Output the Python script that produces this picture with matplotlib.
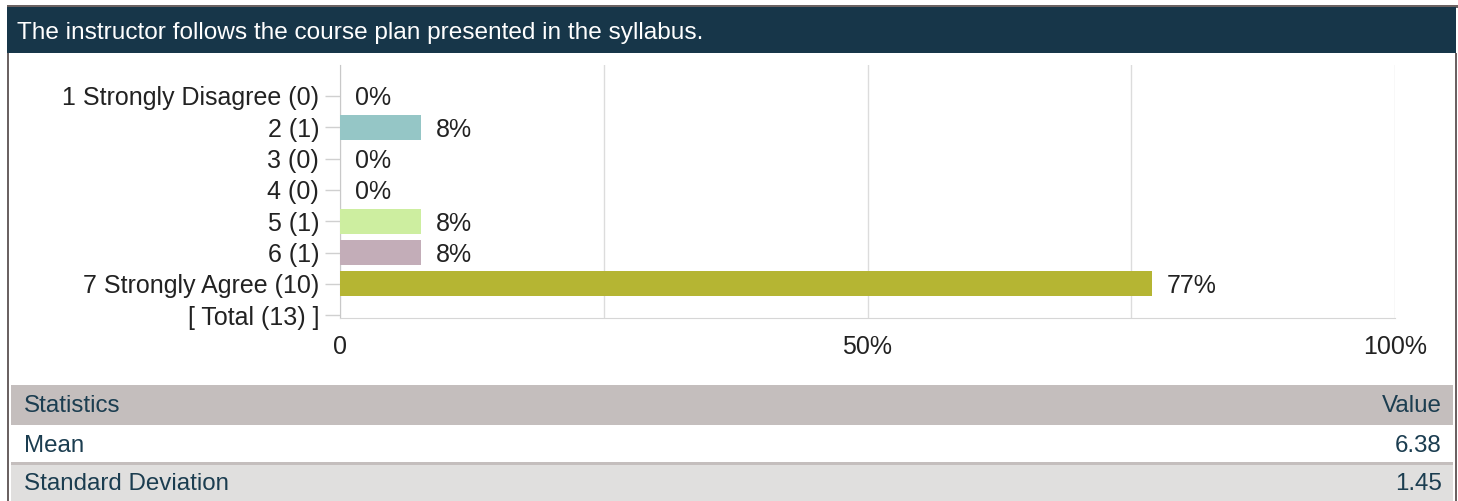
import matplotlib
matplotlib.use("Agg")
import matplotlib.pyplot as plt
from matplotlib.patches import Rectangle

plt.rcParams['font.family'] = ['Liberation Sans', 'DejaVu Sans']

title = "The instructor follows the course plan presented in the syllabus."
categories = ["1 Strongly Disagree (0)", "2 (1)", "3 (0)", "4 (0)", "5 (1)", "6 (1)",
              "7 Strongly Agree (10)", "[ Total (13) ]"]
percents = [0, 7.69, 0, 0, 7.69, 7.69, 76.92]
pct_labels = ["0%", "8%", "0%", "0%", "8%", "8%", "77%"]
bar_colors = ["#95c6c6", "#95c6c6", "#95c6c6", "#95c6c6", "#cdeea0", "#c3adb8", "#b5b533"]
x_ticks = [0, 25, 50, 75, 100]
x_tick_labels = ["0", "", "50%", "", "100%"]
stat_names = ["Mean", "Standard Deviation"]
stat_values = ["6.38", "1.45"]

W, H = 1458, 501
fig = plt.figure(figsize=(W / 100, H / 100), dpi=100)
fig.patch.set_facecolor("white")

bg = fig.add_axes([0, 0, 1, 1])
bg.set_xlim(0, W)
bg.set_ylim(H, 0)
bg.axis("off")

border = "#6b6262"
navy = "#173649"
txt = "#1b3d50"
fs_title = 17.6
fs_tab = 17.4
fs_lab = 18
# header bar
bg.add_patch(Rectangle((7, 5), W - 7, 2.5, color=border, lw=0))
bg.add_patch(Rectangle((7, 7), 1449, 46, color=navy, lw=0))
bg.text(17, 32.5, title, color="white", fontsize=fs_title, va="center", ha="left")
# side borders
bg.add_patch(Rectangle((7, 53), 2.5, H - 53, color=border, lw=0))
bg.add_patch(Rectangle((1455, 53), 2, H - 53, color=border, lw=0))
# stats table
bg.add_patch(Rectangle((11, 385), 1442, 40, color="#c4bebd", lw=0))
bg.text(24, 406.5, "Statistics", color=txt, fontsize=fs_tab, va="center", ha="left")
bg.text(1442, 406.5, "Value", color=txt, fontsize=fs_tab, va="center", ha="right")
row_tops = [425, 462]
row_colors = ["white", "#e0dfde"]
for name, val, top, col in zip(stat_names, stat_values, row_tops, row_colors):
    h = 38 if col == "white" else 39
    bg.add_patch(Rectangle((11, top), 1442, h, color=col, lw=0))
    cy = top + h / 2 + (2.5 if col != "white" else 1.5)
    bg.text(24, cy, name, color=txt, fontsize=fs_tab, va="center", ha="left")
    bg.text(1442, cy, val, color=txt, fontsize=fs_tab, va="center", ha="right")
bg.add_patch(Rectangle((11, 462), 1442, 3, color="#c4bebd", lw=0))

# chart axes
x0, x1 = 340, 1395
ytop, ybot = 65, 318
ax = fig.add_axes([x0 / W, 1 - ybot / H, (x1 - x0) / W, (ybot - ytop) / H])
ax.set_facecolor("none")
n = len(categories)
pos = list(range(n))
ax.barh(pos[:len(percents)], percents, height=0.8, color=bar_colors, zorder=3)
for p, v, lab in zip(pos, percents, pct_labels):
    ax.text(v + 1.4, p, lab, va="center_baseline", ha="left", fontsize=fs_lab,
            color="#222222", zorder=4)
ax.set_xlim(0, 100)
ax.set_ylim(7.09, -0.99)
ax.set_yticks(pos)
ax.set_yticklabels(categories, fontsize=fs_lab, color="#222222")
ax.tick_params(axis="y", length=11, color="#d0d0d0", pad=4, width=1)
ax.set_xticks(x_ticks)
ax.set_xticklabels(x_tick_labels, fontsize=fs_lab, color="#222222")
ax.tick_params(axis="x", length=0, pad=12)
ax.grid(axis="x", color="#dcdcdc", lw=1, zorder=0)
for s in ["top", "right"]:
    ax.spines[s].set_visible(False)
ax.spines["left"].set_color("#c8c8c8")
ax.spines["bottom"].set_color("#d6d6d6")

fig.savefig("out.png", dpi=100, facecolor="white")
